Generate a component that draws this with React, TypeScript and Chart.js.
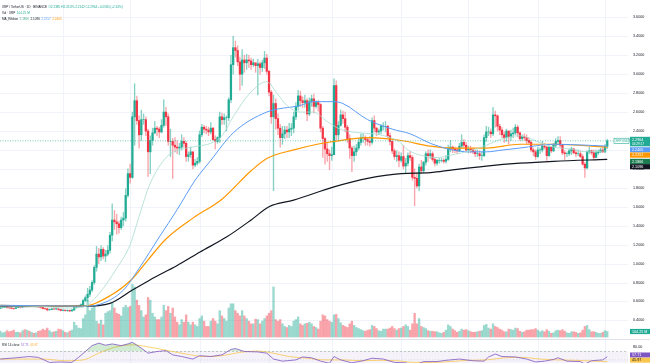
import React, { useEffect, useRef } from "react";
import { Chart, registerables } from "chart.js";
Chart.register(...registerables);

// XRP / TetherUS daily, 3 Oct 2024 (index 0) to 2 Jul 2025
const FIRST_OPEN = 0.535;
const closeOct = [0.526,0.536,0.537,0.541,0.535,0.534,0.527,0.526,0.536,0.543,0.539,0.549,0.545,0.550,0.546,0.549,0.547,0.549,0.542,0.537,0.525,0.523,0.511,0.515,0.522,0.520,0.522,0.515,0.505];
const highOct = [0.540,0.540,0.541,0.545,0.545,0.540,0.536,0.530,0.540,0.545,0.545,0.555,0.556,0.560,0.552,0.552,0.551,0.552,0.550,0.545,0.540,0.530,0.525,0.520,0.525,0.525,0.530,0.525,0.520];
const lowOct = [0.510,0.524,0.530,0.535,0.530,0.525,0.521,0.515,0.524,0.535,0.532,0.537,0.538,0.540,0.540,0.543,0.540,0.540,0.536,0.530,0.520,0.515,0.500,0.508,0.512,0.515,0.515,0.508,0.500];
const closeNov = [0.507,0.504,0.506,0.500,0.510,0.537,0.548,0.553,0.566,0.609,0.638,0.676,0.720,0.800,0.960,1.100,1.070,1.150,1.080,1.100,1.140,1.300,1.460,1.440,1.420,1.380,1.460,1.480,1.720,1.950];
const highNov = [0.520,0.515,0.510,0.510,0.515,0.545,0.560,0.560,0.575,0.625,0.660,0.740,0.760,0.820,0.980,1.180,1.160,1.190,1.170,1.140,1.190,1.330,1.630,1.560,1.520,1.450,1.490,1.540,1.790,2.000];
const lowNov = [0.500,0.498,0.495,0.493,0.498,0.505,0.530,0.540,0.545,0.560,0.600,0.600,0.650,0.700,0.780,0.920,1.000,1.030,1.050,1.020,1.080,1.110,1.240,1.360,1.310,1.320,1.360,1.400,1.450,1.700];
const closeDec = [1.910,2.550,2.720,2.510,2.360,2.520,2.520,2.400,2.180,2.300,2.380,2.430,2.420,2.390,2.460,2.600,2.550,2.290,2.290,2.250,2.230,2.220,2.230,2.290,2.270,2.130,2.150,2.180,2.040,2.060,2.080];
const highDec = [2.050,2.600,2.900,2.770,2.560,2.620,2.580,2.550,2.420,2.350,2.430,2.500,2.450,2.440,2.520,2.730,2.650,2.580,2.420,2.320,2.330,2.300,2.270,2.360,2.330,2.290,2.180,2.230,2.180,2.100,2.120];
const lowDec = [1.850,1.900,2.250,2.470,2.220,2.300,2.470,2.350,1.920,1.950,2.250,2.370,2.350,2.330,2.380,2.440,2.460,2.250,2.130,1.900,2.180,2.160,2.150,2.200,2.230,2.080,2.080,2.120,2.000,2.020,2.040];
const closeJan = [2.360,2.440,2.420,2.410,2.390,2.430,2.310,2.290,2.330,2.550,2.520,2.540,2.540,2.730,3.100,3.280,3.250,3.130,3.000,3.150,3.120,3.150,3.140,3.100,3.120,3.090,3.110,3.070,3.120,3.170,3.030];
const highJan = [2.400,2.470,2.460,2.450,2.440,2.490,2.440,2.350,2.340,2.600,2.590,2.580,2.560,2.750,3.200,3.400,3.350,3.300,3.180,3.260,3.200,3.210,3.200,3.170,3.160,3.120,3.160,3.130,3.150,3.240,3.210];
const lowJan = [2.060,2.340,2.380,2.370,2.350,2.370,2.300,2.210,2.270,2.280,2.470,2.470,2.400,2.510,2.700,3.000,3.180,3.090,2.830,2.880,3.020,3.050,3.070,3.050,3.080,3.020,2.780,3.000,3.030,3.060,3.000];
const closeFeb = [2.810,2.550,2.690,2.530,2.430,2.330,2.370,2.410,2.390,2.420,2.430,2.550,2.660,2.770,2.720,2.700,2.720,2.580,2.710,2.740,2.660,2.700,2.680,2.430,2.320,2.210,2.160,2.140];
const highFeb = [3.040,2.830,2.780,2.740,2.580,2.470,2.450,2.450,2.450,2.480,2.480,2.600,2.700,2.830,2.820,2.760,2.780,2.740,2.750,2.780,2.790,2.720,2.720,2.690,2.450,2.330,2.280,2.200];
const lowFeb = [2.770,2.480,1.770,2.420,2.360,2.230,2.260,2.320,2.330,2.330,2.350,2.380,2.520,2.620,2.660,2.650,2.650,2.510,2.560,2.660,2.590,2.640,2.610,2.390,2.120,2.050,2.080,1.990];
const closeMar = [2.150,2.880,2.360,2.460,2.570,2.530,2.440,2.320,2.220,2.140,2.180,2.220,2.280,2.330,2.330,2.310,2.290,2.280,2.510,2.430,2.390,2.400,2.450,2.450,2.450,2.350,2.290,2.190,2.130,2.140,2.090];
const highMar = [2.230,2.950,2.930,2.500,2.620,2.610,2.600,2.460,2.360,2.240,2.240,2.260,2.320,2.370,2.370,2.350,2.330,2.340,2.540,2.560,2.440,2.420,2.470,2.490,2.500,2.460,2.380,2.300,2.210,2.190,2.180];
const lowMar = [2.090,2.150,2.300,2.300,2.450,2.480,2.390,2.280,2.110,1.970,2.080,2.140,2.200,2.250,2.280,2.250,2.250,2.240,2.260,2.390,2.350,2.360,2.370,2.410,2.390,2.330,2.250,2.160,2.100,2.080,2.020];
const closeApr = [2.130,2.030,2.060,2.140,2.120,1.910,1.900,1.820,2.020,1.980,2.070,2.160,2.140,2.160,2.100,2.060,2.090,2.090,2.090,2.080,2.100,2.210,2.230,2.210,2.200,2.190,2.240,2.280,2.250,2.200];
const highApr = [2.170,2.250,2.110,2.170,2.180,2.140,2.000,1.960,2.050,2.090,2.080,2.180,2.200,2.200,2.180,2.120,2.100,2.110,2.110,2.110,2.140,2.250,2.300,2.240,2.230,2.220,2.270,2.360,2.310,2.280];
const lowApr = [2.070,2.000,1.960,2.030,2.090,1.880,1.610,1.800,1.770,1.950,1.960,2.040,2.080,2.110,2.080,2.030,2.040,2.060,2.070,2.060,2.060,2.090,2.180,2.170,2.170,2.160,2.180,2.220,2.220,2.180];
const closeMay = [2.210,2.200,2.180,2.160,2.160,2.140,2.140,2.330,2.390,2.390,2.370,2.570,2.560,2.450,2.410,2.360,2.330,2.400,2.340,2.370,2.380,2.440,2.380,2.320,2.340,2.330,2.300,2.280,2.200,2.180,2.130];
const highMay = [2.240,2.240,2.220,2.200,2.200,2.190,2.180,2.360,2.450,2.440,2.420,2.650,2.610,2.570,2.470,2.440,2.390,2.420,2.400,2.410,2.430,2.470,2.460,2.390,2.360,2.370,2.360,2.330,2.300,2.220,2.200];
const lowMay = [2.170,2.170,2.160,2.130,2.130,2.100,2.090,2.130,2.290,2.350,2.330,2.350,2.440,2.400,2.360,2.330,2.280,2.290,2.260,2.300,2.330,2.360,2.340,2.300,2.300,2.300,2.260,2.260,2.180,2.140,2.100];
const closeJun = [2.200,2.200,2.240,2.230,2.140,2.230,2.190,2.250,2.290,2.300,2.250,2.170,2.160,2.160,2.190,2.210,2.170,2.160,2.160,2.130,2.050,2.010,2.180,2.190,2.170,2.120,2.170,2.180,2.200,2.180];
const highJun = [2.230,2.220,2.290,2.270,2.240,2.240,2.230,2.270,2.320,2.340,2.340,2.260,2.190,2.180,2.210,2.230,2.220,2.200,2.200,2.190,2.150,2.070,2.190,2.230,2.200,2.200,2.200,2.200,2.220,2.240];
const lowJun = [2.120,2.160,2.180,2.210,2.090,2.130,2.170,2.180,2.230,2.270,2.230,2.150,2.100,2.130,2.140,2.150,2.160,2.130,2.140,2.120,2.040,1.910,2.000,2.160,2.150,2.100,2.120,2.150,2.170,2.170];
const closeJul = [2.2384,2.2964];
const highJul = [2.260,2.3119];
const lowJul = [2.170,2.2142];

// volume, millions of XRP
const volOct = [140,110,80,90,120,100,110,130,90,90,80,120,140,130,110,90,70,80,110,120,150,130,170,120,90,100,110,150,140];
const volNov = [120,90,80,110,130,280,220,170,160,350,420,700,500,550,600,300,250,320,230,450,480,500,650,550,450,430,400,560,600,560];
const volDec = [580,1000,950,700,600,500,380,420,750,700,450,380,330,330,380,600,500,580,450,550,380,280,230,330,280,420,280,230,280,230,200];
const volJan = [350,400,300,200,200,300,350,300,250,500,400,350,300,550,630,630,500,450,400,500,400,350,300,250,250,340,330,250,300,350,400];
const volFeb = [450,500,950,330,300,330,250,200,180,220,200,300,330,380,250,220,250,260,280,250,200,180,150,300,420,400,330,300];
const volMar = [280,420,430,350,270,220,200,180,250,300,220,180,160,140,120,110,130,140,220,200,160,120,110,150,150,150,170,200,160,130,160];
const volApr = [170,200,230,200,130,250,450,250,350,200,180,160,120,110,110,100,100,80,70,90,130,230,200,150,120,90,110,150,130,140];
const volMay = [120,100,90,90,100,110,120,220,240,170,150,250,200,180,150,130,100,100,150,140,130,170,160,110,90,100,130,130,140,140,160];
const volJun = [130,100,120,100,140,110,70,80,120,130,120,140,110,80,70,100,100,90,70,80,130,200,220,140,100,100,90,70,70,90];
const volJul = [120,104.25];

// Moving-average ribbon as [day index, price]
const ma20 = [[1,0.54],[20,0.545],[30,0.53],[38,0.54],[45,0.68],[53,0.95],[59,1.2],[63,1.5],[68,1.85],[75.5,2.13],[81,2.2],[89,2.24],[95,2.27],[100,2.35],[105,2.55],[112.5,2.8],[120,2.92],[124.5,2.8],[129,2.67],[135,2.6],[140.6,2.6],[147,2.5],[152.7,2.42],[161.6,2.38],[170.5,2.36],[179.5,2.28],[183,2.2],[191.5,2.13],[196,2.12],[203,2.15],[210.7,2.19],[218,2.25],[225.5,2.32],[233,2.35],[240.6,2.29],[248,2.23],[255.4,2.21],[263,2.18],[272,2.19]];
const ma50 = [[1,0.56],[38,0.55],[45.5,0.57],[56,0.72],[63,0.95],[72,1.28],[80,1.57],[88,1.88],[95,2.09],[105,2.38],[120,2.6],[135,2.67],[140.6,2.71],[150,2.71],[154,2.69],[165,2.52],[176,2.42],[184,2.37],[193,2.27],[203,2.2],[210,2.18],[218,2.18],[225.5,2.2],[233,2.22],[248,2.26],[263,2.25],[272,2.24]];
const ma100 = [[1,0.56],[38,0.55],[50,0.66],[60,0.84],[67,1.04],[75,1.26],[87,1.48],[100,1.68],[113,1.98],[120,2.11],[132,2.2],[142.5,2.26],[150,2.29],[165,2.33],[180,2.3],[193,2.24],[203,2.22],[218,2.22],[233,2.26],[248,2.26],[272,2.23]];
const ma200 = [[1,0.55],[38,0.55],[50,0.58],[60,0.72],[68,0.83],[80,0.98],[90,1.12],[102,1.28],[113,1.46],[121,1.6],[132,1.67],[150,1.81],[165,1.9],[180,1.95],[193,1.96],[203,1.99],[218,2.03],[233,2.06],[248,2.08],[272,2.1]];

// RSI(14) and its moving average, [day index, value]
const rsi = [[1,52],[8,55],[14,58],[18,56],[23,44],[28,45],[33,44],[36,56],[39,70],[42,84],[45,90],[48,85],[51,88],[55,84],[58,88],[60,92],[64,78],[67,66],[71,70],[75,72],[78,62],[82,58],[87,52],[90,60],[95,58],[100,62],[104,75],[106,77],[110,70],[116,69],[120,66],[123,52],[127,47],[133,50],[136,57],[140,55],[144,47],[148,42],[150,58],[153,50],[158,43],[163,48],[167,54],[172,52],[177,44],[182,43],[186,37],[190,46],[196,46],[200,49],[206,52],[212,48],[217,47],[219,57],[222,64],[225,58],[231,57],[236,52],[240,45],[244,47],[248,51],[250,55],[254,47],[260,46],[262,40],[265,48],[270,50],[272,57.71]];
const rsiMa = [[1,52],[20,52],[30,48],[38,50],[45,66],[52,80],[60,86],[68,80],[76,72],[84,64],[92,58],[100,60],[108,68],[116,71],[122,67],[130,58],[138,54],[146,50],[154,50],[162,48],[170,49],[178,48],[186,44],[194,44],[202,46],[210,49],[218,50],[226,55],[234,56],[242,52],[250,50],[258,49],[266,47],[272,45.97]];

const monthStarts = [29, 59, 90, 121, 149, 180, 210, 241, 271];
const priceTicks = [0.4,0.6,0.8,1.0,1.2,1.4,1.6,1.8,2.0,2.2,2.4,2.6,2.8,3.0,3.2,3.4,3.6];
const rsiTicks = [80];

const closes = [...closeOct,...closeNov,...closeDec,...closeJan,...closeFeb,...closeMar,...closeApr,...closeMay,...closeJun,...closeJul];
const highs = [...highOct,...highNov,...highDec,...highJan,...highFeb,...highMar,...highApr,...highMay,...highJun,...highJul];
const lows = [...lowOct,...lowNov,...lowDec,...lowJan,...lowFeb,...lowMar,...lowApr,...lowMay,...lowJun,...lowJul];
const vols = [...volOct,...volNov,...volDec,...volJan,...volFeb,...volMar,...volApr,...volMay,...volJun,...volJul];
const opens = closes.map((c, i) => (i === 0 ? FIRST_OPEN : closes[i - 1]));

const UP = "#22ab94";
const DOWN = "#f23645";
const UP_A = "rgba(34,171,148,0.45)";
const DOWN_A = "rgba(242,54,69,0.45)";
const GRID = "#f0f3fa";
const FONT = '3.7px "Liberation Sans", Arial, sans-serif';
const HEAD_FONT = '3.1px "Liberation Sans", Arial, sans-serif';
const X_MIN = 0.9;
const X_MAX = 281.26;
const W = 650;
const MAIN_H = 339;
const RSI_H = 24;
const AXIS_W = 22;

const isUp = (i: number) => closes[i] >= opens[i];
const pts = (a: number[][]) => a.map(([x, y]) => ({ x, y }));

function tag(ctx: CanvasRenderingContext2D, x: number, yc: number, w: number, h: number, bg: string, text: string, fg = "#ffffff") {
  ctx.fillStyle = bg;
  ctx.fillRect(x, yc - h / 2, w, h);
  ctx.fillStyle = fg;
  ctx.font = FONT;
  ctx.textBaseline = "middle";
  ctx.textAlign = "left";
  ctx.fillText(text, x + 2, yc + 0.2);
}

function runs(ctx: CanvasRenderingContext2D, x: number, y: number, parts: [string, string][]) {
  ctx.font = HEAD_FONT;
  ctx.textBaseline = "middle";
  ctx.textAlign = "left";
  let cx = x;
  for (const [t, c] of parts) {
    ctx.fillStyle = c;
    ctx.fillText(t, cx, y);
    cx += ctx.measureText(t).width + 1.4;
  }
}

// grid lines and axis labels, drawn from the chart's own scales
function gridPlugin(ticks: number[], digits: number, gridH: boolean) {
  return {
    id: "gridAxis",
    beforeDatasetsDraw(chart: any) {
      const ctx = chart.ctx as CanvasRenderingContext2D;
      const x = chart.scales.x;
      const y = chart.scales.y;
      const a = chart.chartArea;
      ctx.save();
      ctx.strokeStyle = GRID;
      ctx.lineWidth = 1;
      ctx.beginPath();
      for (const m of monthStarts) {
        const px = Math.round(x.getPixelForValue(m)) + 0.5;
        ctx.moveTo(px, 0);
        ctx.lineTo(px, chart.height);
      }
      if (gridH) {
        for (const t of ticks) {
          const py = Math.round(y.getPixelForValue(t)) + 0.5;
          ctx.moveTo(a.left, py);
          ctx.lineTo(a.right, py);
        }
      }
      ctx.stroke();
      ctx.restore();
    },
    afterDatasetsDraw(chart: any) {
      const ctx = chart.ctx as CanvasRenderingContext2D;
      const y = chart.scales.y;
      ctx.save();
      ctx.font = FONT;
      ctx.fillStyle = "#131722";
      ctx.textBaseline = "middle";
      ctx.textAlign = "left";
      for (const t of ticks) {
        ctx.fillText(t.toFixed(digits), 633, y.getPixelForValue(t));
      }
      ctx.restore();
    },
  };
}

const mainOverlay = {
  id: "mainOverlay",
  afterDraw(chart: any) {
    const ctx = chart.ctx as CanvasRenderingContext2D;
    const y = chart.scales.y;
    const yv = chart.scales.yv;
    const area = chart.chartArea;
    const last = closes.length - 1;
    const py = y.getPixelForValue(closes[last]);
    ctx.save();
    ctx.strokeStyle = UP;
    ctx.lineWidth = 0.6;
    ctx.setLineDash([1, 1.5]);
    ctx.beginPath();
    ctx.moveTo(area.left, py);
    ctx.lineTo(area.right, py);
    ctx.stroke();
    ctx.setLineDash([]);

    runs(ctx, 2, 7, [["XRP / TetherUS · 1D · BINANCE", "#131722"], ["O2.2385 H2.3119 L2.2142 C2.2964 +0.0580 (+2.61%)", UP]]);
    runs(ctx, 2, 13, [["Vol · XRP", "#131722"], ["104.25 M", UP]]);
    runs(ctx, 2, 19, [["MA_Ribbon", "#131722"], ["2.1866", "#4caf8a"], ["2.1096", "#131722"], ["2.2257", "#5b9cf6"], ["2.2405", "#ff9800"]]);

    ctx.strokeStyle = UP;
    ctx.lineWidth = 0.6;
    ctx.fillStyle = "#ffffff";
    ctx.fillRect(614, py - 2.6, 15, 5.2);
    ctx.strokeRect(614, py - 2.6, 15, 5.2);
    ctx.fillStyle = UP;
    ctx.font = HEAD_FONT;
    ctx.textBaseline = "middle";
    ctx.fillText("XRPUSDT", 615.3, py + 0.2);
    ctx.fillStyle = UP;
    ctx.fillRect(630, py - 4, 20, 9.5);
    ctx.fillStyle = "#fff";
    ctx.font = FONT;
    ctx.fillText("2.2964", 632, py - 1.3);
    ctx.font = HEAD_FONT;
    ctx.fillText("04:29:17", 632, py + 2.9);
    tag(ctx, 630, py + 9, 20, 5.2, "#5b9cf6", "2.2405");
    tag(ctx, 630, py + 14.3, 20, 5.2, "#ff9800", "2.2257");
    tag(ctx, 630, py + 20.6, 20, 5.2, "#1b7d4f", "2.1866");
    tag(ctx, 630, py + 25.9, 20, 5.2, "#131722", "2.1096");
    const vy = Math.min(yv.getPixelForValue(vols[last]), MAIN_H - 5);
    tag(ctx, 630, vy, 20, 5.2, UP, "104.25 M");
    ctx.restore();
  },
};

const rsiOverlay = {
  id: "rsiOverlay",
  beforeDatasetsDraw(chart: any) {
    const ctx = chart.ctx as CanvasRenderingContext2D;
    const y = chart.scales.y;
    const area = chart.chartArea;
    const y70 = y.getPixelForValue(70);
    const y50 = y.getPixelForValue(50);
    ctx.save();
    ctx.fillStyle = "rgba(126,87,194,0.08)";
    ctx.fillRect(area.left, y70, area.right - area.left, area.bottom - y70);
    ctx.strokeStyle = "#9598a1";
    ctx.lineWidth = 0.5;
    ctx.setLineDash([2, 2]);
    ctx.beginPath();
    ctx.moveTo(area.left, y70);
    ctx.lineTo(area.right, y70);
    ctx.stroke();
    ctx.setLineDash([1, 2]);
    ctx.strokeStyle = "rgba(149,152,161,0.6)";
    ctx.beginPath();
    ctx.moveTo(area.left, y50);
    ctx.lineTo(area.right, y50);
    ctx.stroke();
    ctx.restore();
  },
  afterDraw(chart: any) {
    const ctx = chart.ctx as CanvasRenderingContext2D;
    const y = chart.scales.y;
    ctx.save();
    ctx.strokeStyle = "#e0e3eb";
    ctx.lineWidth = 1;
    ctx.beginPath();
    ctx.moveTo(0, 0.5);
    ctx.lineTo(W, 0.5);
    ctx.stroke();
    runs(ctx, 2, 6, [["RSI 14 close", "#131722"], ["57.71", "#7e57c2"], ["45.97", "#f9a825"]]);
    const r1 = Math.min(y.getPixelForValue(57.71), RSI_H - 8);
    tag(ctx, 630, r1, 20, 5, "#7e57c2", "57.71");
    tag(ctx, 630, r1 + 5.2, 20, 5, "#f9c74f", "45.97", "#131722");
    ctx.restore();
  },
};

const xScale = { type: "linear" as const, display: false, min: X_MIN, max: X_MAX, offset: false };

export default function App() {
  const mainRef = useRef<HTMLCanvasElement>(null);
  const rsiRef = useRef<HTMLCanvasElement>(null);

  useEffect(() => {
    document.body.style.margin = "0";
    const lineDs = (label: string, data: number[][], color: string, width: number) => ({
      type: "line" as const,
      label,
      data: pts(data),
      borderColor: color,
      borderWidth: width,
      pointRadius: 0,
      cubicInterpolationMode: "monotone" as const,
      yAxisID: "y",
      order: 0,
    });

    const main = new Chart(mainRef.current!, {
      type: "bar",
      data: {
        datasets: [
          lineDs("MA 20", ma20, "#a8dccf", 0.8),
          lineDs("MA 50", ma50, "#5b9cf6", 1),
          lineDs("MA 100", ma100, "#ff9800", 1.2),
          lineDs("MA 200", ma200, "#131722", 1.2),
          {
            type: "bar",
            label: "body",
            data: closes.map((c, i) => ({ x: i, y: [opens[i], c] })) as any,
            backgroundColor: (c: any) => (isUp(c.dataIndex) ? UP : DOWN),
            barThickness: 1.6,
            grouped: false,
            yAxisID: "y",
            order: 2,
          },
          {
            type: "bar",
            label: "wick",
            data: closes.map((_, i) => ({ x: i, y: [lows[i], highs[i]] })) as any,
            backgroundColor: (c: any) => (isUp(c.dataIndex) ? "rgba(34,171,148,0.55)" : "rgba(242,54,69,0.45)"),
            barThickness: 0.7,
            grouped: false,
            yAxisID: "y",
            order: 3,
          },
          {
            type: "bar",
            label: "volume",
            data: vols.map((v, i) => ({ x: i, y: v })) as any,
            backgroundColor: (c: any) => (isUp(c.dataIndex) ? UP_A : DOWN_A),
            barThickness: 1.7,
            grouped: false,
            yAxisID: "yv",
            order: 5,
          },
        ],
      },
      options: {
        animation: false,
        responsive: false,
        events: [],
        layout: { padding: { left: 0, top: 0, bottom: 0, right: AXIS_W } },
        plugins: { legend: { display: false }, tooltip: { enabled: false } },
        scales: {
          x: xScale as any,
          y: { display: false, min: 0.2036, max: 3.7833 },
          yv: { display: false, min: -38, max: 6395 },
        },
      },
      plugins: [gridPlugin(priceTicks, 4, true), mainOverlay],
    });

    const rsiChart = new Chart(rsiRef.current!, {
      type: "line",
      data: {
        datasets: [
          {
            label: "RSI",
            data: pts(rsi),
            borderColor: "#7e57c2",
            borderWidth: 0.8,
            pointRadius: 0,
            fill: { target: { value: 70 }, above: "rgba(76,175,80,0.25)", below: "rgba(0,0,0,0)" },
          },
          {
            label: "RSI MA",
            data: pts(rsiMa),
            borderColor: "#f9c74f",
            borderWidth: 0.8,
            pointRadius: 0,
            cubicInterpolationMode: "monotone",
          },
        ],
      },
      options: {
        animation: false,
        responsive: false,
        events: [],
        layout: { padding: { left: 0, top: 0, bottom: 0, right: AXIS_W } },
        plugins: { legend: { display: false }, tooltip: { enabled: false } },
        scales: {
          x: xScale as any,
          y: { display: false, min: 42.6, max: 99.8 },
        },
      },
      plugins: [gridPlugin(rsiTicks, 2, false), rsiOverlay],
    });

    return () => {
      main.destroy();
      rsiChart.destroy();
    };
  }, []);

  return (
    <div style={{ width: W, height: MAIN_H + RSI_H, background: "#ffffff", position: "relative" }}>
      <canvas ref={mainRef} width={W} height={MAIN_H} style={{ display: "block" }} />
      <canvas ref={rsiRef} width={W} height={RSI_H} style={{ display: "block" }} />
    </div>
  );
}
